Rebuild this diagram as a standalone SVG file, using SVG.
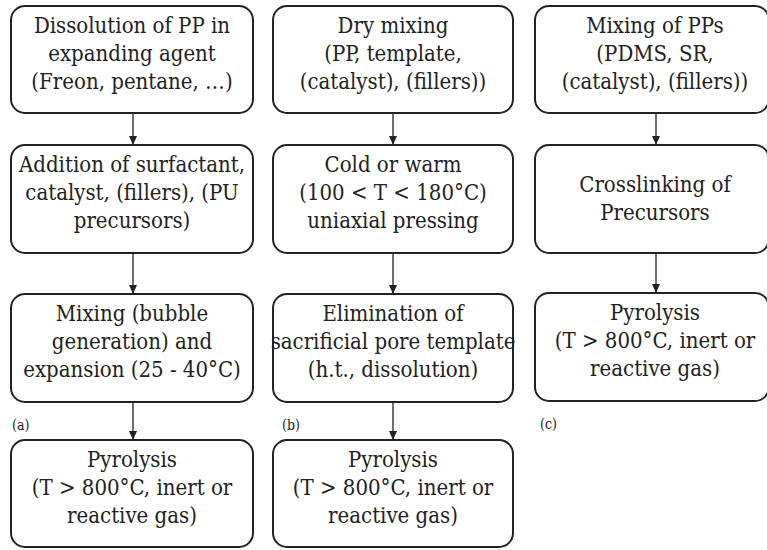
<svg xmlns="http://www.w3.org/2000/svg" width="767" height="550" viewBox="0 0 767 550">
<defs>
<style>
.box{fill:#fff;stroke:#222;stroke-width:2}
.t{font-family:"DejaVu Serif Condensed","DejaVu Serif",serif;font-stretch:condensed;font-size:22px;fill:#222;text-anchor:middle}
.lab{font-family:"DejaVu Serif Condensed","DejaVu Serif",serif;font-stretch:condensed;font-size:14px;fill:#222}
.con line{stroke:#222;stroke-width:1.3}
</style>
<marker id="ah" viewBox="0 0 9 8" refX="9" refY="4" markerWidth="9" markerHeight="8" markerUnits="userSpaceOnUse" orient="auto">
<path d="M0,0 L9,4 L0,8 Z" fill="#222"/>
</marker>
</defs>
<rect width="767" height="550" fill="#fff"/>

<g id="connectors" class="con">
<line x1="133" y1="114" x2="133" y2="145" marker-end="url(#ah)"/>
<line x1="133" y1="254" x2="133" y2="294" marker-end="url(#ah)"/>
<line x1="133" y1="403" x2="133" y2="440" marker-end="url(#ah)"/>
<line x1="393" y1="114" x2="393" y2="145" marker-end="url(#ah)"/>
<line x1="393" y1="254" x2="393" y2="294" marker-end="url(#ah)"/>
<line x1="393" y1="403" x2="393" y2="440" marker-end="url(#ah)"/>
<line x1="656" y1="114" x2="656" y2="145" marker-end="url(#ah)"/>
<line x1="656" y1="254" x2="656" y2="293" marker-end="url(#ah)"/>
</g>

<g id="a1">
<rect class="box" x="11" y="6" width="242" height="107" rx="14"/>
<text class="t" x="132" y="33">Dissolution of PP in</text>
<text class="t" x="132" y="61">expanding agent</text>
<text class="t" x="132" y="89">(Freon, pentane, …)</text>
</g>
<g id="a2">
<rect class="box" x="11" y="145" width="242" height="108" rx="14"/>
<text class="t" x="132" y="172">Addition of surfactant,</text>
<text class="t" x="132" y="200">catalyst, (fillers), (PU</text>
<text class="t" x="132" y="228">precursors)</text>
</g>
<g id="a3">
<rect class="box" x="11" y="294" width="242" height="108" rx="14"/>
<text class="t" x="132" y="321">Mixing (bubble</text>
<text class="t" x="132" y="349">generation) and</text>
<text class="t" x="132" y="377">expansion (25 - 40°C)</text>
</g>
<g id="a4">
<rect class="box" x="11" y="440" width="242" height="107" rx="14"/>
<text class="t" x="132" y="467">Pyrolysis</text>
<text class="t" x="132" y="495">(T &gt; 800°C, inert or</text>
<text class="t" x="132" y="523">reactive gas)</text>
</g>
<text class="lab" x="12" y="430">(a)</text>

<g id="b1">
<rect class="box" x="273" y="6" width="240" height="107" rx="14"/>
<text class="t" x="393" y="33">Dry mixing</text>
<text class="t" x="393" y="61">(PP, template,</text>
<text class="t" x="393" y="89">(catalyst), (fillers))</text>
</g>
<g id="b2">
<rect class="box" x="273" y="145" width="240" height="108" rx="14"/>
<text class="t" x="393" y="172">Cold or warm</text>
<text class="t" x="393" y="200">(100 &lt; T &lt; 180°C)</text>
<text class="t" x="393" y="228">uniaxial pressing</text>
</g>
<g id="b3">
<rect class="box" x="273" y="294" width="240" height="108" rx="14"/>
<text class="t" x="393" y="321">Elimination of</text>
<text class="t" x="393" y="349">sacrificial pore template</text>
<text class="t" x="393" y="377">(h.t., dissolution)</text>
</g>
<g id="b4">
<rect class="box" x="273" y="440" width="240" height="107" rx="14"/>
<text class="t" x="393" y="467">Pyrolysis</text>
<text class="t" x="393" y="495">(T &gt; 800°C, inert or</text>
<text class="t" x="393" y="523">reactive gas)</text>
</g>
<text class="lab" x="282" y="430">(b)</text>

<g id="c1">
<rect class="box" x="535" y="6" width="234" height="107" rx="14"/>
<text class="t" x="655" y="33">Mixing of PPs</text>
<text class="t" x="655" y="61">(PDMS, SR,</text>
<text class="t" x="655" y="89">(catalyst), (fillers))</text>
</g>
<g id="c2">
<rect class="box" x="535" y="145" width="234" height="108" rx="14"/>
<text class="t" x="655" y="192">Crosslinking of</text>
<text class="t" x="655" y="220">Precursors</text>
</g>
<g id="c3">
<rect class="box" x="535" y="293" width="234" height="108" rx="14"/>
<text class="t" x="655" y="320">Pyrolysis</text>
<text class="t" x="655" y="348">(T &gt; 800°C, inert or</text>
<text class="t" x="655" y="376">reactive gas)</text>
</g>
<text class="lab" x="540" y="429">(c)</text>
</svg>
